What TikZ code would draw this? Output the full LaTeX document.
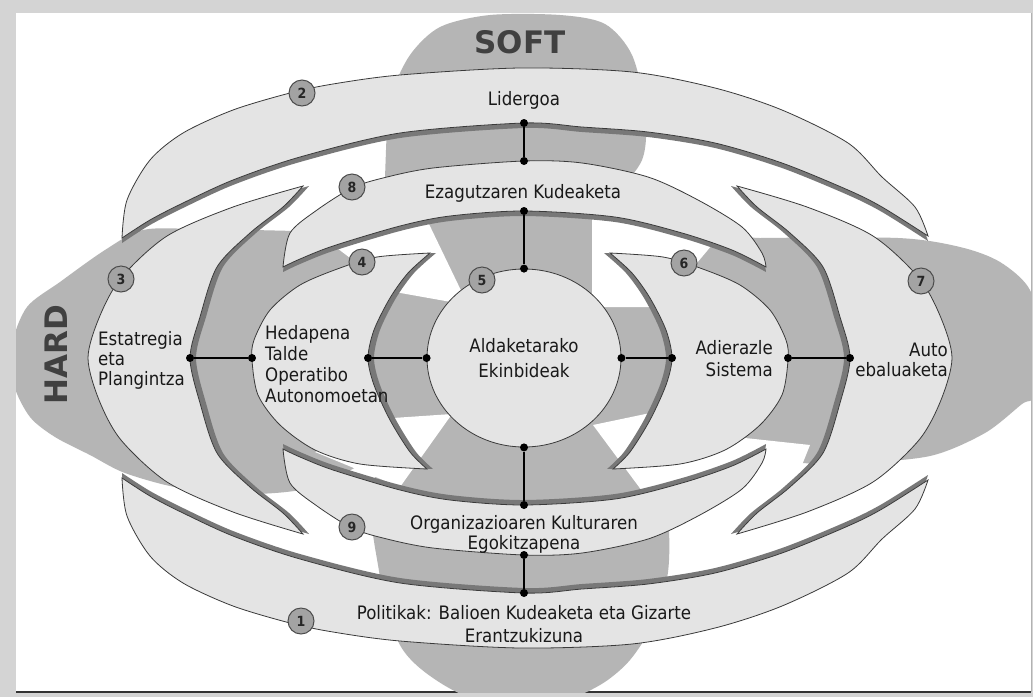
\documentclass[tikz,border=0pt]{standalone}
\usepackage{fontspec}
\setmainfont[FakeStretch=0.9]{DejaVu Sans}
\newfontfamily\bigfont{DejaVu Sans}
\usetikzlibrary{shapes.geometric}

\definecolor{framegray}{HTML}{D4D4D4}
\definecolor{lobegray}{HTML}{B5B5B5}
\definecolor{bandgray}{HTML}{E4E4E4}
\definecolor{shadowgray}{HTML}{787878}
\definecolor{edgegray}{HTML}{3A3A3A}
\definecolor{badgegray}{HTML}{A3A3A3}

% band outlines (pixel units, y down)
\def\bandtop{plot[smooth] coordinates {(122,238) (127,200) (150,160) (183,133) (233,110) (290,93) (333,84) (400,75) (520,68) (632,72) (715,88) (782,110) (848,143) (882,177) (915,207) (928,236)}
  -- plot[smooth] coordinates {(928,236) (882,207) (848,190) (782,163) (715,143) (648,132) (582,127) (524,123) (400,133) (300,157) (233,180) (183,203) (150,220) (122,238)} -- cycle}
\def\bandmid{plot[smooth] coordinates {(283,267) (290,233) (317,210) (352,188) (383,178) (433,168) (524,161) (582,163) (648,177) (698,200) (742,227) (762,253) (766,267)}
  -- plot[smooth] coordinates {(766,267) (732,250) (682,233) (615,217) (524,211) (450,216) (400,226) (333,246) (300,259) (283,267)} -- cycle}
\def\bandout{plot[smooth] coordinates {(303,186) (233,207) (167,236) (121,278) (99,318) (88,358) (99,400) (121,440) (167,482) (233,512) (303,534)}
  -- plot[smooth] coordinates {(303,534) (283,513) (250,487) (217,453) (200,403) (190,358) (200,317) (217,267) (250,233) (283,207) (303,186)} -- cycle}
\def\bandin{plot[smooth] coordinates {(430,253) (377,257) (340,268) (300,285) (270,310) (254,340) (252,360) (258,395) (280,425) (315,450) (360,464) (427,469)}
  -- plot[smooth] coordinates {(427,469) (410,452) (390,420) (374,385) (368,358) (374,330) (390,298) (408,273) (430,253)} -- cycle}

\begin{document}
\begin{tikzpicture}[x=1pt,y=-1pt,
  lobe/.style={fill=lobegray},
  hole/.style={fill=white},
  band/.style={fill=bandgray,draw=edgegray,line width=0.8pt},
  shade/.style={fill=shadowgray},
  hub/.style={ellipse,draw=edgegray,fill=bandgray,line width=0.8pt,minimum width=194pt,minimum height=178pt,inner sep=0pt,align=center,text=black!90,font=\fontsize{18.5}{25}\selectfont},
  badge/.style={circle,draw=black!70,fill=badgegray,line width=1pt,minimum size=26pt,inner sep=0pt,text=black!85,font=\fontsize{14}{14}\selectfont\bfseries},
  dot/.style={circle,fill=black,minimum size=8pt,inner sep=0pt},
  link/.style={line width=2.6pt},
  lbl/.style={inner sep=0pt,text=black!90,font=\fontsize{18.5}{20}\selectfont},
  big/.style={inner sep=0pt,text=black!75,font=\bigfont\fontsize{31}{31}\selectfont\bfseries}]
\useasboundingbox (0,0) rectangle (1033,697);
% frame
\fill[framegray] (0,0) rectangle (1033,697);
\fill[white] (16,13) rectangle (1031,692);
\draw[black!80,line width=2pt] (16,692) -- (1031,692);
\draw[black!30,line width=1pt] (1031,13) -- (1031,692);

% soft / hard background
\begin{scope}
\clip (16,13) rectangle (1031,692);
\fill[lobe] plot[smooth cycle] coordinates {(388,230) (386,150) (392,95) (410,55) (440,27) (490,15) (560,15) (605,24) (632,55) (645,110) (642,160) (605,210) (592,260) (600,300) (524,330) (450,300) (425,240)};
\fill[lobe] plot[smooth cycle] coordinates {(380,470) (380,578) (400,645) (433,678) (480,700) (560,700) (600,685) (630,660) (655,620) (668,572) (668,520) (655,470) (524,440)};
\fill[lobe] plot[smooth cycle] coordinates {(400,235) (333,232) (200,229) (143,230) (105,250) (60,282) (27,307) (12,345) (14,385) (30,417) (55,437) (90,455) (125,473) (180,488) (250,494) (310,488) (360,465) (400,440)};
\fill[lobe] plot[smooth cycle] coordinates {(680,240) (760,238) (898,238) (960,247) (1000,262) (1030,290) (1040,340) (1035,395) (1022,404) (985,433) (930,456) (850,463) (760,462) (680,455)};
\fill[lobe] (522,358) ellipse [x radius=160pt, y radius=150pt];
\fill[hole] (333,245) -- (428,222) -- (468,305) -- (395,292) -- cycle;
\fill[hole] (592,213) -- (712,228) -- (712,245) -- (660,307) -- (592,307) -- cycle;
\fill[hole] (393,418) -- (452,414) -- (400,487) -- (315,452) -- cycle;
\fill[hole] (593,425) -- (655,412) -- (745,438) -- (810,445) -- (790,495) -- (645,495) -- cycle;
\end{scope}

% shadows
\fill[shade,shift={(0,5)}] \bandtop;
\fill[shade,shift={(0,716)},yscale=-1,shift={(0,5)}] \bandtop;
\fill[shade,shift={(0,5)}] \bandmid;
\fill[shade,shift={(0,716)},yscale=-1,shift={(0,5)}] \bandmid;
\fill[shade,shift={(6,0)}] \bandout;
\fill[shade,shift={(1040,0)},xscale=-1,shift={(6,0)}] \bandout;
\fill[shade,shift={(6,0)}] \bandin;
\fill[shade,shift={(1040,0)},xscale=-1,shift={(6,0)}] \bandin;

% bands
\filldraw[band] \bandtop;
\filldraw[band,shift={(0,716)},yscale=-1] \bandtop;
\filldraw[band] \bandmid;
\filldraw[band,shift={(0,716)},yscale=-1] \bandmid;
\filldraw[band] \bandout;
\filldraw[band,shift={(1040,0)},xscale=-1] \bandout;
\filldraw[band] \bandin;
\filldraw[band,shift={(1040,0)},xscale=-1] \bandin;

\node (c5) at (524,358) [hub] {Aldaketarako\\Ekinbideak};

% connectors
\node  (d3) at (190,358) [dot] {};
\node (d4a) at (252,358) [dot] {};
\node (d4b) at (368,358) [dot] {};
\node (d5w) at (c5.west) [dot] {};
\node (d5e) at (c5.east) [dot] {};
\node (d6b) at (672,358) [dot] {};
\node (d6a) at (788,358) [dot] {};
\node  (d7) at (850,358) [dot] {};
\node  (d2) at (524,123) [dot] {};
\node (d8a) at (524,161) [dot] {};
\node (d8b) at (524,211) [dot] {};
\node (d5n) at (c5.north) [dot] {};
\node (d5s) at (c5.south) [dot] {};
\node (d9b) at (524,505) [dot] {};
\node (d9a) at (524,555) [dot] {};
\node  (d1) at (524,593) [dot] {};
\draw [link]  (d3) -- (d4a);
\draw [link] (d4b) -- (d5w);
\draw [link] (d5e) -- (d6b);
\draw [link] (d6a) -- (d7);
\draw [link]  (d2) -- (d8a);
\draw [link] (d8b) -- (d5n);
\draw [link] (d5s) -- (d9b);
\draw [link] (d9a) -- (d1);

% numbers
\node (n1) at (301,621) [badge] {1};
\node (n2) at (302,93) [badge] {2};
\node (n3) at (121,279) [badge] {3};
\node (n4) at (362,262) [badge] {4};
\node (n5) at (482,280) [badge] {5};
\node (n6) at (684,263) [badge] {6};
\node (n7) at (921,281) [badge] {7};
\node (n8) at (352,187) [badge] {8};
\node (n9) at (352,527) [badge] {9};

% labels
\node (lid) at (524,105) [lbl,anchor=base] {Lidergoa};
\node (eza) at (523,198) [lbl,anchor=base] {Ezagutzaren Kudeaketa};
\node (est) at (98,360) [lbl,anchor=west,align=left] {Estatregia\\eta\\Plangintza};
\node (hed) at (265,364.5) [lbl,anchor=west,align=left,font=\fontsize{18.5}{21}\selectfont] {Hedapena\\Talde\\Operatibo\\Autonomoetan};
\node (adi) at (773,359) [lbl,anchor=east,align=right,font=\fontsize{18.5}{22}\selectfont] {Adierazle\\Sistema};
\node (aut) at (948,360) [lbl,anchor=east,align=right] {Auto\\ebaluaketa};
\node (org) at (524,534) [lbl,align=center] {Organizazioaren Kulturaren\\Egokitzapena};
\node (pol) at (524,624.5) [lbl,align=center,font=\fontsize{18.5}{23}\selectfont] {Politikak: Balioen Kudeaketa eta Gizarte\\Erantzukizuna};
\node (soft) at (520,53) [big,anchor=base] {SOFT};
\node (hard) at (56,355) [big,rotate=90] {HARD};
\end{tikzpicture}
\end{document}
